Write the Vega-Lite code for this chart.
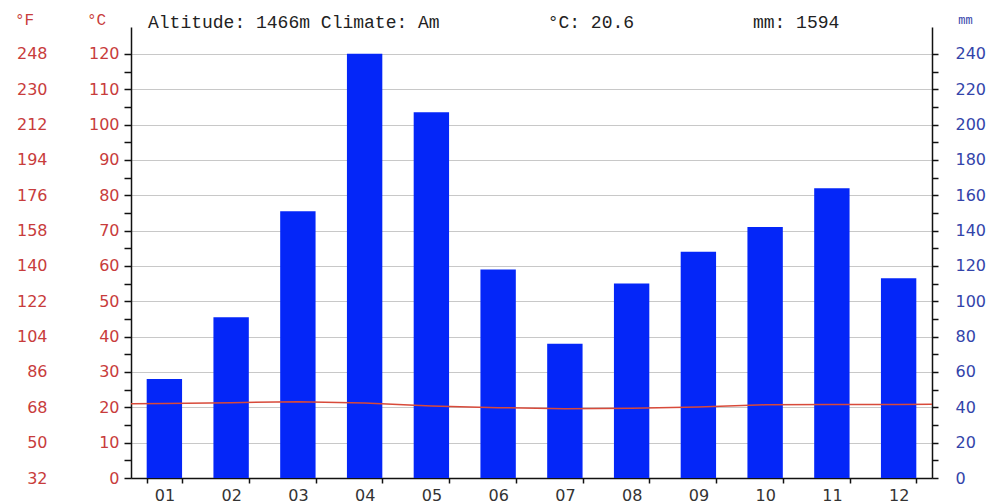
{
  "$schema": "https://vega.github.io/schema/vega-lite/v6.json",
  "width": 801,
  "height": 451,
  "autosize": "none",
  "padding": {"left": 131, "top": 27, "right": 63, "bottom": 25},
  "background": "white",
  "title": {
    "text": "Altitude: 1466m Climate: Am\u00a0\u00a0\u00a0\u00a0\u00a0\u00a0\u00a0\u00a0\u00a0\u00a0°C: 20.6\u00a0\u00a0\u00a0\u00a0\u00a0\u00a0\u00a0\u00a0\u00a0\u00a0\u00a0mm: 1594",
    "anchor": "start",
    "frame": "group",
    "dx": 17,
    "offset": 0,
    "baseline": "middle",
    "dy": 30,
    "font": "Liberation Mono",
    "fontSize": 18,
    "fontWeight": "normal",
    "color": "#222222"
  },
  "datasets": {
    "precip": [
      {"month": "01", "mm": 56},
      {"month": "02", "mm": 91},
      {"month": "03", "mm": 151},
      {"month": "04", "mm": 240},
      {"month": "05", "mm": 207},
      {"month": "06", "mm": 118},
      {"month": "07", "mm": 76},
      {"month": "08", "mm": 110},
      {"month": "09", "mm": 128},
      {"month": "10", "mm": 142},
      {"month": "11", "mm": 164},
      {"month": "12", "mm": 113}
    ],
    "temp": [
      {"pos": 0.5, "t": 21.0},
      {"pos": 1, "t": 21.1},
      {"pos": 2, "t": 21.3},
      {"pos": 3, "t": 21.6},
      {"pos": 4, "t": 21.2},
      {"pos": 5, "t": 20.4},
      {"pos": 6, "t": 19.9},
      {"pos": 7, "t": 19.6},
      {"pos": 8, "t": 19.7},
      {"pos": 9, "t": 20.1},
      {"pos": 10, "t": 20.7},
      {"pos": 11, "t": 20.8},
      {"pos": 12, "t": 20.8},
      {"pos": 12.5, "t": 20.9}
    ]
  },
  "layer": [
    {
      "data": {"name": "temp"},
      "mark": {"type": "line", "strokeOpacity": 0},
      "encoding": {
        "x": {"field": "pos", "type": "quantitative", "scale": {"domain": [0.5, 12.5], "nice": false, "zero": false}, "axis": null},
        "y": {
          "field": "t", "type": "quantitative",
          "scale": {"domain": [0, 127.6], "nice": false, "zero": true},
          "axis": {
            "orient": "left",
            "values": [0, 10, 20, 30, 40, 50, 60, 70, 80, 90, 100, 110, 120],
            "labelExpr": "format(datum.value * 1.8 + 32, 'd')",
            "grid": true,
            "gridColor": "#c8c8c8",
            "gridWidth": 1,
            "domain": false,
            "ticks": false,
            "tickSize": 0,
            "labelPadding": 84,
            "labelFont": "DejaVu Sans",
            "labelFontSize": 16,
            "labelColor": "#c83c3c",
            "title": "°F",
            "titleAngle": 0,
            "titleX": -107,
            "titleY": -8,
            "titleAlign": "center",
            "titleBaseline": "middle",
            "titleFont": "Liberation Mono",
            "titleFontSize": 16,
            "titleFontWeight": "normal",
            "titleColor": "#c83c3c"
          }
        }
      }
    },
    {
      "data": {"name": "precip"},
      "mark": {"type": "bar", "color": "#0426f8"},
      "encoding": {
        "x": {
          "field": "month", "type": "nominal",
          "scale": {"paddingInner": 0.47, "paddingOuter": 0.235},
          "axis": {
            "title": null,
            "labelAngle": 0,
            "tickBand": "extent",
            "tickSize": 5,
            "tickColor": "#111111",
            "tickWidth": 1.5,
            "domainColor": "#111111",
            "domainWidth": 1.5,
            "labelFont": "DejaVu Sans",
            "labelFontSize": 16,
            "labelColor": "#333333",
            "labelPadding": 4
          }
        },
        "y": {
          "field": "mm", "type": "quantitative",
          "scale": {"domain": [0, 255.2], "nice": false, "zero": true},
          "axis": {
            "orient": "right",
            "values": [0, 10, 20, 30, 40, 50, 60, 70, 80, 90, 100, 110, 120, 130, 140, 150, 160, 170, 180, 190, 200, 210, 220, 230, 240],
            "labelExpr": "datum.value % 20 == 0 ? datum.label : ''",
            "grid": false,
            "domainColor": "#111111",
            "domainWidth": 1.5,
            "tickColor": "#111111",
            "tickWidth": 1.5,
            "tickSize": 6,
            "labelPadding": 17,
            "labelFont": "DejaVu Sans",
            "labelFontSize": 16,
            "labelColor": "#3344aa",
            "title": "mm",
            "titleAngle": 0,
            "titleX": 33,
            "titleY": -8,
            "titleAlign": "center",
            "titleBaseline": "middle",
            "titleFont": "Liberation Mono",
            "titleFontSize": 12,
            "titleFontWeight": "normal",
            "titleColor": "#3344aa"
          }
        }
      }
    },
    {
      "data": {"name": "temp"},
      "mark": {"type": "line", "color": "#d84a3a", "strokeWidth": 1.5},
      "encoding": {
        "x": {"field": "pos", "type": "quantitative", "scale": {"domain": [0.5, 12.5], "nice": false, "zero": false}, "axis": null},
        "y": {
          "field": "t", "type": "quantitative",
          "scale": {"domain": [0, 127.6], "nice": false, "zero": true},
          "axis": {
            "orient": "left",
            "values": [0, 5, 10, 15, 20, 25, 30, 35, 40, 45, 50, 55, 60, 65, 70, 75, 80, 85, 90, 95, 100, 105, 110, 115, 120],
            "labelExpr": "datum.value % 10 == 0 ? datum.label : ''",
            "grid": false,
            "domainColor": "#111111",
            "domainWidth": 1.5,
            "tickColor": "#111111",
            "tickWidth": 1.5,
            "tickSize": 7,
            "labelPadding": 5,
            "labelFont": "DejaVu Sans",
            "labelFontSize": 16,
            "labelColor": "#c83c3c",
            "title": "°C",
            "titleAngle": 0,
            "titleX": -35,
            "titleY": -8,
            "titleAlign": "center",
            "titleBaseline": "middle",
            "titleFont": "Liberation Mono",
            "titleFontSize": 16,
            "titleFontWeight": "normal",
            "titleColor": "#c83c3c"
          }
        }
      }
    }
  ],
  "resolve": {
    "scale": {"x": "independent", "y": "independent"},
    "axis": {"x": "independent", "y": "independent"}
  },
  "config": {
    "view": {"stroke": null},
    "axis": {"labelOverlap": false}
  }
}
